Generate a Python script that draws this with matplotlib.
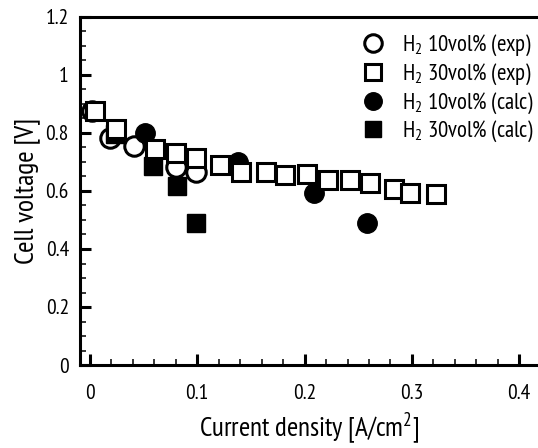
import matplotlib
matplotlib.use('Agg')
import matplotlib.pyplot as plt
from matplotlib.ticker import MultipleLocator

plt.rcParams['font.family'] = ['PT Sans Narrow', 'DejaVu Sans']
plt.rcParams['mathtext.fontset'] = 'custom'
plt.rcParams['mathtext.rm'] = 'PT Sans Narrow'

# H2 10vol% experiment
exp10_x = [0.002, 0.019, 0.041, 0.080, 0.099]
exp10_y = [0.877, 0.782, 0.756, 0.684, 0.667]

# H2 30vol% experiment
exp30_x = [0.005, 0.024, 0.061, 0.080, 0.099, 0.121, 0.141, 0.164, 0.182,
           0.202, 0.222, 0.242, 0.261, 0.283, 0.298, 0.322]
exp30_y = [0.877, 0.813, 0.745, 0.730, 0.713, 0.690, 0.667, 0.667, 0.655,
           0.657, 0.638, 0.638, 0.627, 0.606, 0.594, 0.589]

# H2 10vol% calculation
calc10_x = [0.051, 0.138, 0.209, 0.258]
calc10_y = [0.799, 0.701, 0.592, 0.491]

# H2 30vol% calculation
calc30_x = [0.023, 0.059, 0.081, 0.099]
calc30_y = [0.796, 0.687, 0.618, 0.491]

labels = [r'H$_\mathregular{2}$ 10vol% (exp)', r'H$_\mathregular{2}$ 30vol% (exp)',
          r'H$_\mathregular{2}$ 10vol% (calc)', r'H$_\mathregular{2}$ 30vol% (calc)']

fig = plt.figure(figsize=(5.38, 4.48), dpi=100)
ax = fig.add_axes([80 / 538, 83 / 448, 458 / 538, 348 / 448])

h1, = ax.plot(exp10_x, exp10_y, 'o', ms=14, mfc='white', mec='black', mew=2.2,
              zorder=3, clip_on=False)
h3, = ax.plot(calc10_x, calc10_y, 'o', ms=14, mfc='black', mec='black', mew=1,
              zorder=4, clip_on=False)
h4, = ax.plot(calc30_x, calc30_y, 's', ms=12.5, mfc='black', mec='black', mew=1,
              zorder=4, clip_on=False)
h2, = ax.plot(exp30_x, exp30_y, 's', ms=12.5, mfc='white', mec='black', mew=2.2,
              zorder=5, clip_on=False)

ax.set_xlim(-0.0093, 0.4175)
ax.set_ylim(0, 1.2)
ax.xaxis.set_major_locator(MultipleLocator(0.1))
ax.xaxis.set_minor_locator(MultipleLocator(0.02))
ax.yaxis.set_major_locator(MultipleLocator(0.2))
ax.yaxis.set_minor_locator(MultipleLocator(0.05))
fmt = plt.FuncFormatter(lambda v, p: '0' if abs(v) < 1e-9 else '%g' % v)
ax.xaxis.set_major_formatter(fmt)
ax.yaxis.set_major_formatter(fmt)

ax.spines['right'].set_visible(False)
for s in ['left', 'bottom', 'top']:
    ax.spines[s].set_linewidth(2.2)

ax.tick_params(which='major', direction='in', length=8, width=2.2, labelsize=15.5)
ax.tick_params(which='minor', direction='in', length=4.3, width=1.1)
ax.tick_params(axis='x', which='major', pad=14)
ax.tick_params(axis='y', which='major', pad=8)

ax.set_xlabel('Current density [A/cm$^\\mathregular{2}$]', fontsize=19.5, labelpad=5)
ax.set_ylabel('Cell voltage [V]', fontsize=20, labelpad=4)

ax.legend([h1, h2, h3, h4], labels, loc='upper left',
          bbox_to_anchor=(361.6 / 538, 1 - 33 / 448), bbox_transform=fig.transFigure,
          frameon=False, fontsize=16.4, handlelength=1.0, handletextpad=0.77,
          borderpad=0, borderaxespad=0, labelspacing=0.15, markerscale=0.9)

fig.savefig('out.png', dpi=100)
